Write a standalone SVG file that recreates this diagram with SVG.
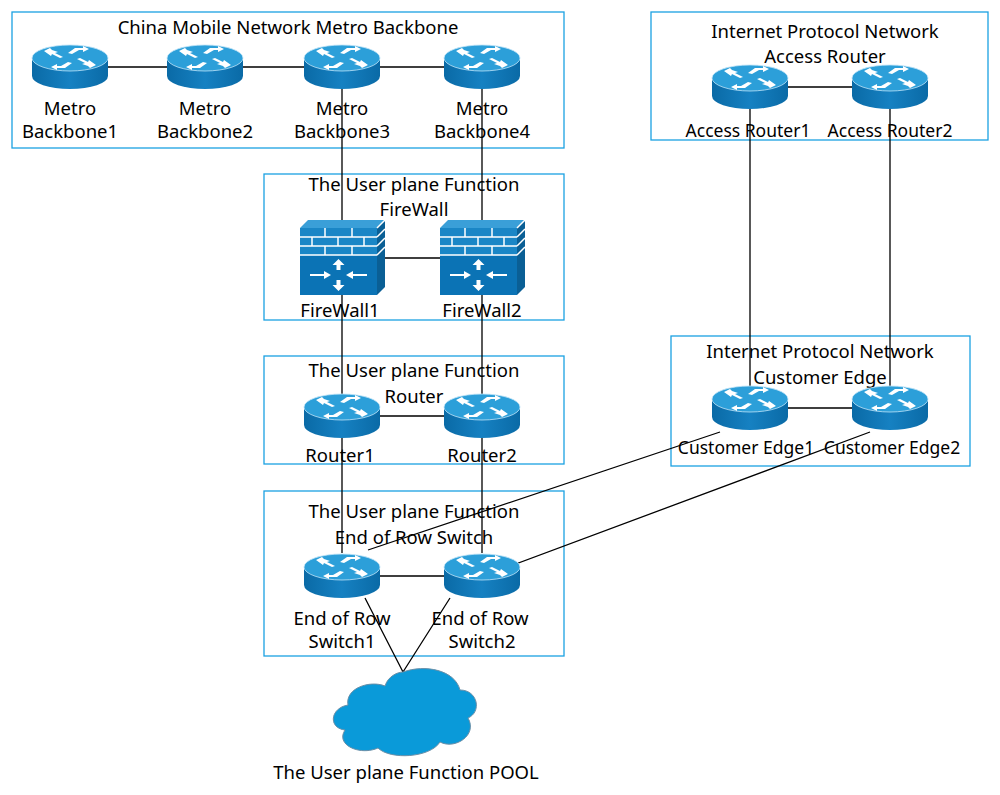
<svg xmlns="http://www.w3.org/2000/svg" width="1000" height="795" viewBox="0 0 1000 795">
<style>
.box{fill:none;stroke:#1ba1e2;stroke-width:1.3}
.ln{stroke:#000;stroke-width:1.3;fill:none}
text{font-family:"Noto Sans","Open Sans",sans-serif;font-size:18.5px;fill:#000;text-anchor:middle}
.s{font-size:17.5px}
</style>
<defs>
<linearGradient id="rb" x1="0" y1="0" x2="1" y2="0"><stop offset="0" stop-color="#0a6aa6"/><stop offset="0.5" stop-color="#1681c2"/><stop offset="1" stop-color="#0a6aa6"/></linearGradient>
<g id="router">
<path d="M-38,-9 v18 a38,13 0 0 0 76,0 v-18 z" fill="url(#rb)"/>
<ellipse cx="0" cy="-9" rx="38" ry="13" fill="#2c9fd9" stroke="#bfe3f7" stroke-width="0.8"/>
<g fill="#fff">
<path d="M-26,-16 l6,-3 l2,2 l6,2 l-3,1 l8,4 l-3,1 l-8,-4 l-1,2 z"/>
<path d="M26,-2 l-6,3 l-2,-2 l-6,-2 l3,-1 l-8,-4 l3,-1 l8,4 l1,-2 z"/>
<path d="M5,-19 l8,0 l0,-2 l6,3 l-6,3 l0,-2 l-4,0 l-7,4 l-4,-1 z"/>
<path d="M-5,1 l-8,0 l0,2 l-6,-3 l6,-3 l0,2 l4,0 l7,-4 l4,1 z"/>
</g>
</g>
<g id="fw">
<path d="M0,8 l8,-8 h77 l-8,8 z" fill="#3a9fd8"/>
<path d="M77,8 l8,-8 v67 l-8,8 z" fill="#0a5f95"/>
<rect x="0" y="8" width="77" height="27" fill="#1a86c6"/>
<rect x="0" y="35" width="77" height="40" fill="#0b73b5"/>
<g stroke="#fff" stroke-width="1.5" fill="none">
<path d="M0,17 h77 M0,26 h77 M0,35 h77 M25,8 v9 M52,8 v9 M12,17 v9 M38,17 v9 M64,17 v9 M25,26 v9 M52,26 v9 M77,8 l8,-8 M77,17 l8,-8 M77,26 l8,-8 M77,35 l8,-8"/>
</g>
<g fill="#fff">
<path d="M10,54 h14 v-3 l7,4 l-7,4 v-3 h-14 z"/>
<path d="M67,54 h-14 v-3 l-7,4 l7,4 v-3 h14 z"/>
<path d="M38.5,39 l6,6 h-4 v5 h-4 v-5 h-4 z"/>
<path d="M38.5,71 l6,-6 h-4 v-5 h-4 v5 h-4 z"/>
</g>
</g>
</defs>
<g id="groups">
<rect class="box" x="12" y="12" width="552" height="136"/>
<rect class="box" x="651" y="12" width="337" height="128"/>
<rect class="box" x="264" y="174" width="300" height="146"/>
<rect class="box" x="264" y="356" width="300" height="108"/>
<rect class="box" x="671" y="336" width="299" height="130"/>
<rect class="box" x="264" y="491" width="300" height="165"/>
<text x="288" y="34">China Mobile Network Metro Backbone</text>
<text x="825" y="38">Internet Protocol Network</text>
<text x="825" y="63">Access Router</text>
<text x="414" y="191">The User plane Function</text>
<text x="414" y="216">FireWall</text>
<text x="414" y="377">The User plane Function</text>
<text x="414" y="403">Router</text>
<text x="820" y="358">Internet Protocol Network</text>
<text x="820" y="384">Customer Edge</text>
<text x="414" y="518">The User plane Function</text>
<text x="414" y="544">End of Row Switch</text>
</g>
<g id="connectors">
<path class="ln" d="M108,67 H167 M243,67 H304 M380,67 H444"/>
<path class="ln" d="M342,88 V553 M482,88 V553"/>
<path class="ln" d="M385,258 H440 M380,416 H444 M380,576 H444"/>
<path class="ln" d="M788,87 H852 M750,108 V390 M890,108 V390 M788,408 H852"/>
<path class="ln" d="M720,432 L368,550 M870,432 L505,568"/>
<path class="ln" d="M365,598 L403,672 M450,598 L403,672"/>
</g>
<g id="metro1"><use href="#router" x="70" y="67"/><text x="70" y="115">Metro</text><text x="70" y="138">Backbone1</text></g>
<g id="metro2"><use href="#router" x="205" y="67"/><text x="205" y="115">Metro</text><text x="205" y="138">Backbone2</text></g>
<g id="metro3"><use href="#router" x="342" y="67"/><text x="342" y="115">Metro</text><text x="342" y="138">Backbone3</text></g>
<g id="metro4"><use href="#router" x="482" y="67"/><text x="482" y="115">Metro</text><text x="482" y="138">Backbone4</text></g>
<g id="ar1"><use href="#router" x="750" y="87"/><text class="s" x="748" y="137">Access Router1</text></g>
<g id="ar2"><use href="#router" x="890" y="87"/><text class="s" x="890" y="137">Access Router2</text></g>
<g id="fw1"><use href="#fw" x="300" y="220"/><text x="340" y="317">FireWall1</text></g>
<g id="fw2"><use href="#fw" x="440" y="220"/><text x="482" y="317">FireWall2</text></g>
<g id="r1"><use href="#router" x="342" y="416"/><text x="340" y="462">Router1</text></g>
<g id="r2"><use href="#router" x="482" y="416"/><text x="482" y="462">Router2</text></g>
<g id="ce1"><use href="#router" x="750" y="408"/><text class="s" x="746" y="454">Customer Edge1</text></g>
<g id="ce2"><use href="#router" x="890" y="408"/><text class="s" x="892" y="454">Customer Edge2</text></g>
<g id="eor1"><use href="#router" x="342" y="576"/><text x="342" y="625">End of Row</text><text x="342" y="648">Switch1</text></g>
<g id="eor2"><use href="#router" x="482" y="576"/><text x="480" y="625">End of Row</text><text x="482" y="648">Switch2</text></g>
<g id="pool">
<path d="M403,672 C425,664 455,670 460,690 C478,690 482,712 468,718 C478,735 455,750 440,742 C430,758 390,760 378,748 C360,756 335,745 345,730 C328,728 330,708 348,705 C345,688 370,680 385,686 C388,676 398,672 403,672 Z" fill="#0a9ad9" stroke="#6a8fa8" stroke-width="1"/>
<text x="406" y="779">The User plane Function POOL</text>
</g>
</svg>
